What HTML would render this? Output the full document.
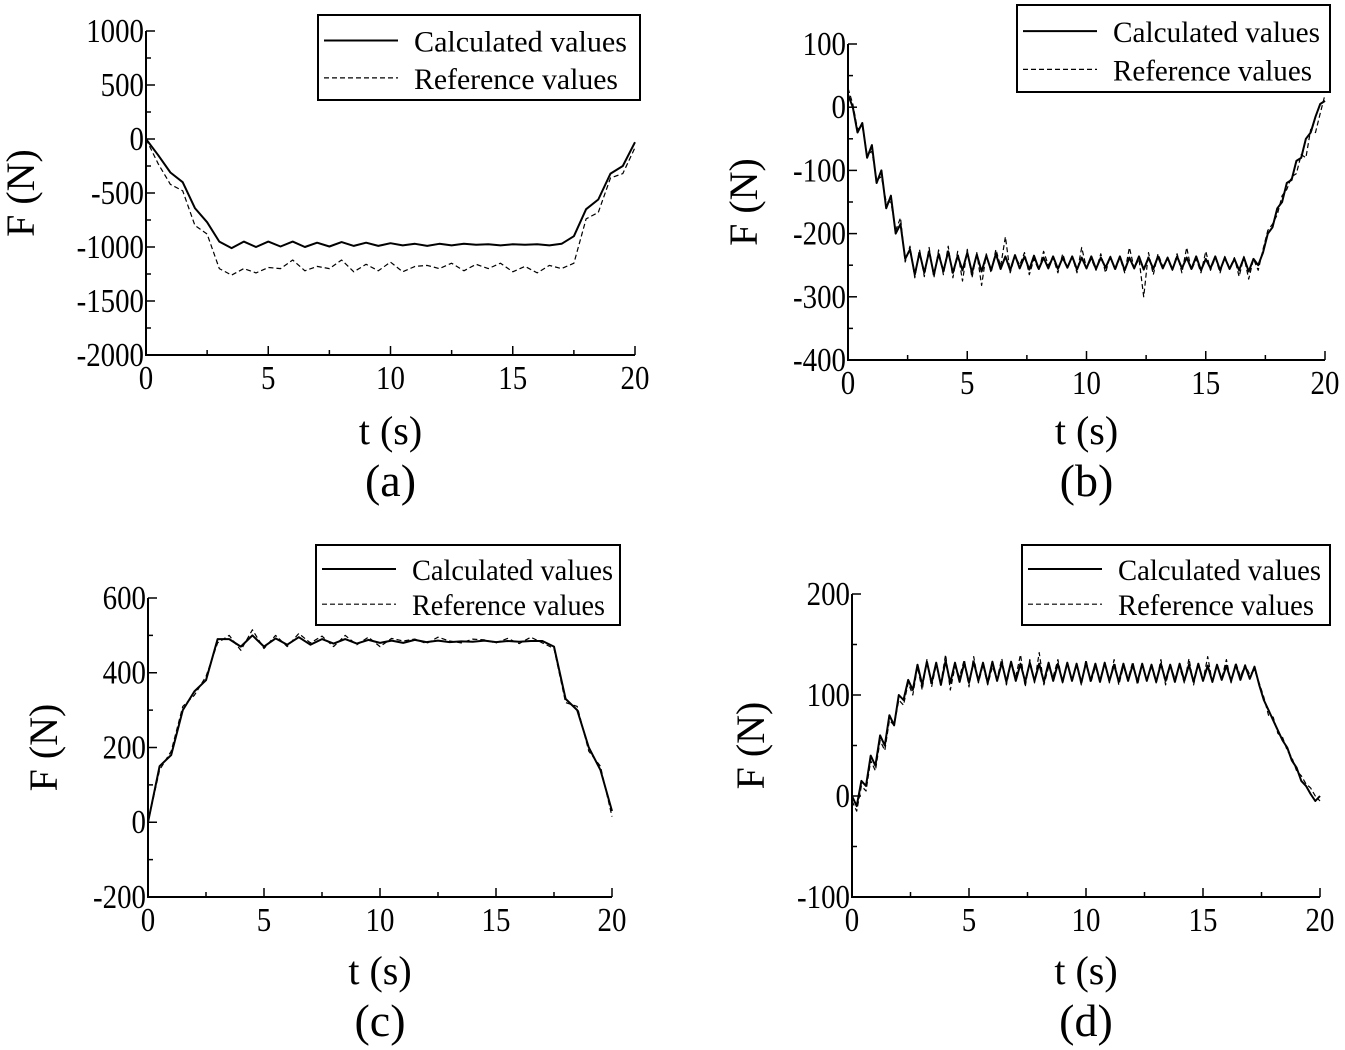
<!DOCTYPE html>
<html><head><meta charset="utf-8">
<style>
html,body{margin:0;padding:0;background:#fff;}
svg{display:block;font-family:"Liberation Serif",serif;}
</style></head>
<body>
<svg id="fig" width="1345" height="1050" viewBox="0 0 1345 1050" xmlns="http://www.w3.org/2000/svg"></svg>
<script>
// ---- data (t in s, F in N) ----
const tA = [0,0.5,1,1.5,2,2.5,3,3.5,4,4.5,5,5.5,6,6.5,7,7.5,8,8.5,9,9.5,10,10.5,11,11.5,12,12.5,13,13.5,14,14.5,15,15.5,16,16.5,17,17.5,18,18.5,19,19.5,20];
const calcA = [0,-150,-310,-400,-640,-770,-950,-1010,-950,-1000,-950,-995,-950,-1000,-960,-995,-955,-990,-960,-990,-965,-985,-970,-990,-970,-985,-970,-980,-975,-985,-975,-980,-975,-985,-970,-900,-650,-560,-320,-250,-30];
const refA = [0,-230,-420,-480,-800,-880,-1200,-1260,-1200,-1240,-1190,-1200,-1120,-1220,-1180,-1200,-1120,-1230,-1160,-1220,-1140,-1230,-1180,-1170,-1200,-1150,-1220,-1160,-1200,-1150,-1230,-1180,-1240,-1170,-1200,-1150,-740,-680,-360,-320,-80];

const tC = tA;
const calcC = [0,150,180,300,350,380,490,490,470,500,470,492,475,495,475,490,478,490,478,488,480,486,480,488,482,486,482,484,483,486,482,485,483,485,485,470,330,300,200,140,30];
const refC = [0,140,190,310,340,390,480,500,460,515,465,500,470,505,480,498,470,500,475,495,470,492,485,490,478,495,485,480,490,488,480,492,478,495,480,465,320,310,190,150,15];

const calcB = [20,0,-40,-25,-80,-60,-120,-100,-160,-140,-200,-185,-240,-225,-265,
-230,-262,-228,-265,-232,-260,-228,-262,
-235,-258,-230,-262,-233,-260,-235,-258,
-232,-256,-236,-258,-234,-255,-236,-257,
-235,-256,-238,-255,-236,-256,-238,-254,
-236,-257,-238,-255,-236,-256,-238,-254,
-237,-256,-236,-258,-238,-255,-236,-257,
-238,-256,-236,-255,-238,-257,-236,-255,
-238,-256,-236,-258,-240,-255,-236,-258,
-238,-256,-240,-258,-238,-260,-240,-250,
-230,-200,-190,-160,-150,-120,-115,-85,-80,-50,-40,-15,5,10];
const refB = [30,5,-35,-30,-75,-70,-115,-110,-150,-150,-195,-175,-245,-220,-270,
-225,-268,-222,-270,-226,-265,-220,-270,
-228,-275,-225,-270,-230,-282,-232,-262,
-225,-252,-205,-262,-235,-250,-230,-265,
-240,-258,-228,-250,-238,-262,-232,-255,
-236,-262,-222,-255,-240,-258,-232,-262,
-235,-258,-238,-262,-222,-255,-240,-300,
-230,-265,-232,-252,-240,-258,-232,-262,
-222,-258,-240,-262,-228,-258,-238,-262,
-236,-255,-238,-268,-236,-272,-240,-258,
-225,-195,-185,-170,-140,-130,-110,-105,-75,-80,-35,-40,-10,20];
const calcD = [0,-10,15,10,40,30,60,50,80,70,100,95,115,105,130,
110,133,112,132,110,134,112,132,
113,132,112,133,114,132,112,133,
114,132,113,133,114,131,113,132,
114,131,113,132,114,131,113,132,
114,131,112,132,114,131,113,132,
114,130,113,131,114,130,113,131,
114,130,113,131,114,130,113,131,
114,130,113,131,114,129,113,130,
115,129,114,130,115,129,116,128,
110,95,85,75,65,55,48,35,28,15,10,2,-5,0];
const refD = [-5,-15,10,5,35,25,55,45,75,70,95,90,112,100,128,
105,135,108,130,112,140,105,128,
118,135,108,138,112,130,110,128,
116,136,110,132,118,140,108,135,
112,142,110,128,118,135,112,132,
115,130,110,135,112,128,115,132,
112,135,110,128,116,133,110,130,
115,128,112,135,110,130,116,128,
112,136,110,132,114,138,112,130,
116,135,112,132,118,130,120,125,
112,98,80,78,62,58,45,38,25,20,12,8,0,-5];
const tB = calcB.map((_, i) => i * 0.2);

const xTicks = [0,5,10,15,20];
const yTicksA = [1000,500,0,-500,-1000,-1500,-2000];
const yTicksB = [100,0,-100,-200,-300,-400];
const yTicksC = [600,400,200,0,-200];
const yTicksD = [200,100,0,-100];

const NS = "http://www.w3.org/2000/svg";
const svg = document.getElementById('fig');
function mk(tag, attrs, parent) {
  const e = document.createElementNS(NS, tag);
  for (const k in attrs) e.setAttribute(k, attrs[k]);
  (parent || svg).appendChild(e);
  return e;
}

function panel(p) {
  const g = mk('g', {});
  
  
  const sx = t => p.x0 + (t - 0) / 20 * (p.x1 - p.x0);
  const sy = v => p.yb + (v - p.ymin) / (p.ymax - p.ymin) * (p.yt - p.yb);
  const ax = mk('path', {d: `M${p.x0},${p.yt} L${p.x0},${p.yb} L${p.x1},${p.yb}`, fill: 'none', stroke: '#000', 'stroke-width': 2}, g);
  
  
  for (let i = 0; i <= 8; i++) {
    const t = i * 2.5, x = sx(t);
    mk('line', {x1: x, x2: x, y1: p.yb, y2: p.yb - (i % 2 ? 5 : 9), stroke: '#000', 'stroke-width': 1.5}, g);
  }
  xTicks.forEach(t => {
    const tx = mk('text', {x: sx(t), y: p.yb + 34, 'text-anchor': 'middle', 'font-size': 34, transform: `translate(${sx(t)},0) scale(0.85,1) translate(${-sx(t)},0)`}, g);
    tx.textContent = t;
    
    
  });
  const yt = p.yticks;
  for (let i = 0; i < yt.length; i++) {
    const y = sy(yt[i]);
    mk('line', {x1: p.x0, x2: p.x0 + 9, y1: y, y2: y, stroke: '#000', 'stroke-width': 1.5}, g);
    if (i < yt.length - 1) {
      const ym = sy((yt[i] + yt[i + 1]) / 2);
      mk('line', {x1: p.x0, x2: p.x0 + 5, y1: ym, y2: ym, stroke: '#000', 'stroke-width': 1.5}, g);
    }
    const lx = p.x0 - 2;
    const tx = mk('text', {x: lx, y: y + 11, 'text-anchor': 'end', 'font-size': 34, transform: `translate(${lx},0) scale(0.85,1) translate(${-lx},0)`}, g);
    tx.textContent = yt[i];
    
    
  }
  const line = (ts, vs, dash, w, name) => {
    const d = vs.map((v, i) => (i ? 'L' : 'M') + sx(ts[i]).toFixed(1) + ',' + sy(v).toFixed(1)).join(' ');
    const e = mk('path', {d, fill: 'none', stroke: '#000', 'stroke-width': w, 'stroke-dasharray': dash, 'stroke-linejoin': 'round'}, g);
    
    
  };
  line(p.t, p.ref, '5,3', 1.2, 'reference-series');
  line(p.t, p.calc, 'none', 2, 'calculated-series');
  const yl = mk('text', {x: 0, y: 0, 'font-size': 40, 'text-anchor': 'middle', transform: `translate(${p.ytx},${(p.yt + p.yb) / 2}) rotate(-90)`}, g);
  yl.textContent = 'F (N)';
  
  
  const xl = mk('text', {x: (p.x0 + p.x1) / 2, y: p.xty, 'font-size': 40, 'text-anchor': 'middle'}, g);
  xl.textContent = 't (s)';
  
  
  const cap = mk('text', {x: (p.x0 + p.x1) / 2, y: p.capy, 'font-size': 46, 'text-anchor': 'middle'}, g);
  cap.textContent = '(' + p.id + ')';
  
  
  const L = p.leg;
  const lg = mk('g', {}, g);
  
  
  mk('rect', {x: L[0], y: L[1], width: L[2], height: L[3], fill: '#fff', stroke: '#000', 'stroke-width': 2}, lg);
  const r1 = L[1] + L[3] * 0.3, r2 = L[1] + L[3] * 0.74;
  mk('line', {x1: L[0] + 6, x2: L[0] + 80, y1: r1, y2: r1, stroke: '#000', 'stroke-width': 2}, lg);
  mk('line', {x1: L[0] + 6, x2: L[0] + 80, y1: r2, y2: r2, stroke: '#000', 'stroke-width': 1.2, 'stroke-dasharray': '5,3'}, lg);
  const t1 = mk('text', {x: L[0] + 96, y: r1 + 11, 'font-size': 30, textLength: (L[2] * 0.66).toFixed(0), lengthAdjust: 'spacingAndGlyphs'}, lg);
  t1.textContent = 'Calculated values';
  
  
  const t2 = mk('text', {x: L[0] + 96, y: r2 + 11, 'font-size': 30, textLength: (L[2] * 0.635).toFixed(0), lengthAdjust: 'spacingAndGlyphs'}, lg);
  t2.textContent = 'Reference values';
  
  
}

panel({id: 'a', x0: 146, x1: 635, yt: 31, yb: 355, ymin: -2000, ymax: 1000, yticks: yTicksA, t: tA, calc: calcA, ref: refA, ytx: 34, xty: 444, capy: 496, leg: [318, 15, 322, 85]});
panel({id: 'b', x0: 848, x1: 1325, yt: 44, yb: 360, ymin: -400, ymax: 100, yticks: yTicksB, t: tB, calc: calcB, ref: refB, ytx: 757, xty: 444, capy: 496, leg: [1017, 5, 313, 87]});
panel({id: 'c', x0: 148, x1: 612, yt: 598, yb: 897, ymin: -200, ymax: 600, yticks: yTicksC, t: tC, calc: calcC, ref: refC, ytx: 57, xty: 984, capy: 1036, leg: [316, 545, 304, 80]});
panel({id: 'd', x0: 852, x1: 1320, yt: 594, yb: 897, ymin: -100, ymax: 200, yticks: yTicksD, t: tB, calc: calcD, ref: refD, ytx: 764, xty: 984, capy: 1036, leg: [1022, 545, 308, 80]});
</script>
</body></html>
